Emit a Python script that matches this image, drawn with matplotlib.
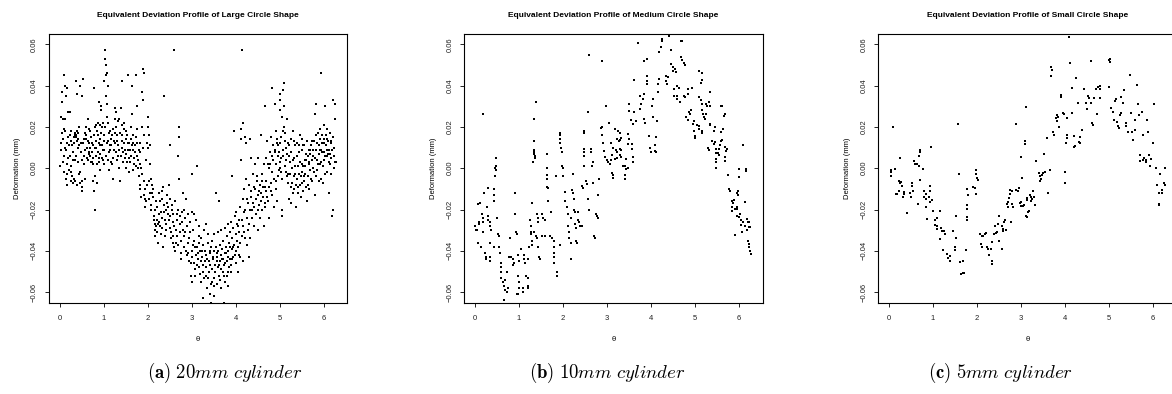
import numpy as np
import matplotlib
matplotlib.use('Agg')
import matplotlib.pyplot as plt

plt.rcParams['font.family'] = ['Liberation Sans', 'DejaVu Sans']
plt.rcParams['mathtext.fontset'] = 'cm'

# (theta, deformation)
large_pts = [
    (0.02, 0.001), (0.03, 0.009), (0.04, 0.025), (0.05, 0.037), (0.06, 0.032), (0.07, 0.024), (0.08, 0.014),
    (0.09, 0.006), (0.1, 0.045), (0.1, 0.019), (0.12, 0.018), (0.12, 0.04), (0.13, 0.01), (0.14, 0.035),
    (0.15, -0.005), (0.16, -0.008), (0.17, 0.012), (0.18, 0.039), (0.18, -0.003), (0.2, 0.005), (0.2, 0.027),
    (0.22, -0.001), (0.23, 0.016), (0.24, 0.027), (0.25, 0.001), (0.26, -0.006), (0.27, -0.002), (0.28, 0.011),
    (0.3, 0.004), (0.3, -0.007), (0.32, 0.015), (0.33, -0.005), (0.34, 0.017), (0.35, 0.004), (0.36, 0.016),
    (0.37, 0.042), (0.38, 0.015), (0.39, -0.008), (0.4, 0.036), (0.4, 0.013), (0.42, 0.017), (0.43, 0.01),
    (0.44, 0.02), (0.45, -0.003), (0.46, -0.007), (0.47, 0.04), (0.48, 0.012), (0.5, -0.011), (0.5, 0.004),
    (0.51, -0.006), (0.52, 0.035), (0.53, 0.043), (0.54, 0.012), (0.55, 0.006), (0.56, 0.002), (0.58, -0.005),
    (0.6, 0.016), (0.6, 0.014), (0.61, 0.02), (0.63, 0.01), (0.64, 0.024), (0.65, 0.004), (0.66, 0.012),
    (0.67, 0.008), (0.68, 0.007), (0.7, 0.006), (0.7, 0.018), (0.72, 0.015), (0.73, 0.003), (0.75, 0.005),
    (0.76, 0.011), (0.77, -0.006), (0.78, -0.011), (0.79, 0.039), (0.8, -0.02), (0.8, 0.02), (0.82, 0.021),
    (0.83, 0.01), (0.84, 0.006), (0.85, 0.002), (0.86, -0.007), (0.87, 0.022), (0.88, 0.016), (0.89, 0.012),
    (0.9, 0.032), (0.9, 0.005), (0.91, -0.001), (0.92, 0.007), (0.93, 0.021), (0.94, 0.017), (0.95, 0.028),
    (0.95, 0.03), (0.96, 0.011), (0.97, 0.005), (0.98, 0.022), (0.99, 0.009), (1.0, 0.016), (1.0, 0.013),
    (1.01, 0.002), (1.02, 0.042), (1.03, 0.057), (1.04, 0.053), (1.05, 0.05), (1.05, 0.035), (1.06, 0.045),
    (1.07, 0.031), (1.08, 0.025), (1.09, 0.046), (1.1, 0.04), (1.1, 0.022), (1.11, 0.013), (1.12, 0.008),
    (1.13, -0.001), (1.14, 0.018), (1.15, 0.009), (1.16, 0.003), (1.18, 0.011), (1.2, 0.016), (1.21, 0.005),
    (1.22, -0.005), (1.23, 0.013), (1.25, 0.029), (1.26, 0.024), (1.27, 0.017), (1.28, 0.008), (1.29, 0.027),
    (1.3, 0.004), (1.31, 0.013), (1.33, 0.023), (1.35, 0.0), (1.36, 0.009), (1.37, -0.006), (1.38, 0.017),
    (1.4, 0.029), (1.41, 0.01), (1.42, 0.042), (1.43, 0.013), (1.44, 0.003), (1.45, 0.008), (1.46, 0.019),
    (1.47, 0.022), (1.48, 0.005), (1.5, 0.014), (1.5, 0.0), (1.52, 0.007), (1.53, 0.016), (1.55, 0.045),
    (1.56, 0.012), (1.57, 0.005), (1.58, -0.002), (1.6, 0.009), (1.61, 0.003), (1.62, 0.014), (1.63, 0.02),
    (1.64, 0.04), (1.65, 0.026), (1.66, 0.009), (1.67, -0.001), (1.68, 0.012), (1.7, 0.002), (1.72, 0.008),
    (1.73, 0.015), (1.74, 0.045), (1.75, 0.03), (1.76, 0.019), (1.77, 0.006), (1.78, 0.0), (1.8, 0.009),
    (1.81, -0.004), (1.82, 0.012), (1.83, -0.008), (1.84, -0.01), (1.85, 0.0), (1.86, -0.014), (1.87, 0.02),
    (1.88, 0.037), (1.9, 0.033), (1.9, 0.048), (1.91, 0.046), (1.92, -0.006), (1.93, -0.013), (1.94, -0.019),
    (1.95, -0.015), (1.96, 0.004), (1.98, -0.008), (2.0, 0.02), (2.01, 0.025), (2.02, 0.01), (2.03, -0.015),
    (2.04, 0.016), (2.05, 0.011), (2.06, 0.002), (2.07, -0.005), (2.08, -0.018), (2.1, -0.008), (2.12, -0.014),
    (2.13, -0.01), (2.15, -0.023), (2.16, -0.027), (2.17, -0.03), (2.18, -0.033), (2.2, -0.016), (2.21, -0.025),
    (2.22, -0.019), (2.23, -0.036), (2.24, -0.027), (2.25, -0.012), (2.27, -0.026), (2.28, -0.016), (2.3, -0.021),
    (2.31, -0.032), (2.32, -0.011), (2.33, -0.015), (2.35, -0.009), (2.36, -0.038), (2.37, 0.035), (2.38, 0.065),
    (2.38, -0.018), (2.4, -0.025), (2.41, -0.02), (2.42, -0.03), (2.44, -0.017), (2.45, -0.013), (2.46, -0.022),
    (2.48, -0.008), (2.5, -0.015), (2.5, -0.029), (2.51, 0.011), (2.52, -0.023), (2.53, -0.034), (2.55, -0.02),
    (2.56, -0.018), (2.57, -0.026), (2.58, -0.036), (2.6, 0.057), (2.6, -0.028), (2.61, -0.038), (2.62, -0.016),
    (2.63, -0.04), (2.65, -0.03), (2.66, -0.025), (2.68, -0.033), (2.69, -0.02), (2.7, 0.006), (2.71, 0.02),
    (2.71, 0.015), (2.72, -0.005), (2.73, -0.027), (2.74, -0.023), (2.75, -0.041), (2.76, -0.035), (2.78, -0.026),
    (2.8, -0.03), (2.81, -0.012), (2.82, -0.02), (2.83, -0.038), (2.85, -0.024), (2.86, -0.031), (2.88, -0.015),
    (2.9, -0.042), (2.91, -0.036), (2.92, -0.022), (2.94, -0.034), (2.95, -0.045), (2.96, -0.026), (2.98, -0.052),
    (3.0, -0.04), (3.0, -0.021), (3.01, -0.055), (3.02, -0.003), (3.03, -0.037), (3.04, -0.03), (3.05, -0.046),
    (3.06, -0.022), (3.08, -0.052), (3.1, -0.042), (3.11, -0.025), (3.12, -0.038), (3.13, 0.001), (3.15, -0.044),
    (3.16, -0.033), (3.17, -0.048), (3.18, -0.028), (3.2, -0.04), (3.21, -0.055), (3.22, -0.034), (3.23, -0.043),
    (3.25, -0.037), (3.26, -0.05), (3.27, -0.063), (3.28, -0.03), (3.3, -0.045), (3.31, -0.04), (3.32, -0.052),
    (3.33, -0.027), (3.35, -0.044), (3.36, -0.058), (3.37, -0.036), (3.38, -0.032), (3.4, -0.05), (3.41, -0.041),
    (3.42, -0.061), (3.43, -0.047), (3.44, -0.038), (3.45, -0.065), (3.46, -0.055), (3.47, -0.035), (3.48, -0.043),
    (3.5, -0.04), (3.5, -0.062), (3.51, -0.053), (3.52, -0.032), (3.53, -0.047), (3.55, -0.038), (3.56, -0.012),
    (3.57, -0.056), (3.58, -0.043), (3.6, -0.048), (3.6, -0.031), (3.61, -0.04), (3.62, -0.052), (3.63, -0.016),
    (3.64, -0.045), (3.65, -0.037), (3.66, -0.058), (3.67, -0.042), (3.68, -0.03), (3.7, -0.044), (3.71, -0.05),
    (3.72, -0.035), (3.73, -0.065), (3.74, -0.047), (3.75, -0.041), (3.76, -0.055), (3.77, -0.029), (3.78, -0.038),
    (3.8, -0.052), (3.8, -0.045), (3.81, -0.033), (3.82, -0.057), (3.83, -0.04), (3.84, -0.027), (3.85, -0.048),
    (3.86, -0.036), (3.87, -0.044), (3.88, -0.031), (3.9, -0.026), (3.9, -0.05), (3.91, -0.004), (3.92, -0.039),
    (3.93, -0.034), (3.94, -0.043), (3.95, -0.029), (3.96, 0.018), (3.97, -0.037), (3.98, -0.023), (4.0, -0.032),
    (4.0, -0.046), (4.01, -0.04), (4.02, -0.021), (4.03, -0.035), (4.05, -0.05), (4.06, -0.028), (4.07, -0.042),
    (4.08, -0.031), (4.1, -0.019), (4.1, -0.036), (4.12, 0.019), (4.12, 0.014), (4.13, 0.004), (4.14, -0.025),
    (4.15, 0.057), (4.15, -0.033), (4.16, 0.022), (4.17, -0.015), (4.18, -0.045), (4.2, -0.031), (4.2, -0.01),
    (4.21, 0.015), (4.22, -0.02), (4.23, -0.005), (4.24, 0.012), (4.25, -0.037), (4.27, -0.015), (4.28, -0.03),
    (4.3, -0.043), (4.3, -0.008), (4.32, 0.014), (4.33, -0.02), (4.34, -0.034), (4.35, 0.005), (4.36, -0.011),
    (4.38, -0.024), (4.4, -0.003), (4.4, -0.017), (4.42, -0.028), (4.44, -0.01), (4.45, 0.002), (4.46, -0.022),
    (4.48, -0.006), (4.5, -0.013), (4.5, -0.03), (4.52, 0.005), (4.53, -0.018), (4.55, -0.008), (4.56, -0.024),
    (4.57, -0.012), (4.58, 0.016), (4.6, -0.006), (4.6, -0.02), (4.62, -0.014), (4.64, -0.028), (4.65, 0.002),
    (4.66, -0.009), (4.67, 0.03), (4.68, -0.019), (4.7, 0.005), (4.7, -0.011), (4.72, 0.013), (4.74, -0.016),
    (4.75, 0.0), (4.76, -0.024), (4.78, 0.008), (4.8, -0.007), (4.8, 0.015), (4.82, 0.039), (4.83, -0.002),
    (4.84, -0.013), (4.85, 0.011), (4.86, 0.004), (4.88, -0.019), (4.9, 0.031), (4.9, 0.009), (4.91, -0.006),
    (4.92, 0.018), (4.93, 0.002), (4.94, 0.014), (4.95, -0.016), (4.96, 0.006), (4.97, 0.011), (4.98, -0.001),
    (5.0, 0.028), (5.0, 0.033), (5.0, 0.0), (5.01, 0.036), (5.02, 0.012), (5.03, 0.005), (5.04, -0.002),
    (5.05, -0.02), (5.05, -0.023), (5.06, 0.025), (5.07, 0.038), (5.08, 0.018), (5.09, 0.009), (5.1, 0.041),
    (5.1, 0.03), (5.11, 0.02), (5.12, 0.017), (5.13, 0.013), (5.14, -0.002), (5.15, 0.004), (5.16, 0.024),
    (5.18, 0.007), (5.2, -0.007), (5.2, -0.003), (5.21, 0.011), (5.22, -0.015), (5.23, 0.003), (5.25, -0.009),
    (5.26, -0.017), (5.27, 0.014), (5.28, 0.0), (5.3, -0.012), (5.3, 0.018), (5.32, -0.004), (5.33, 0.005),
    (5.34, -0.01), (5.35, 0.001), (5.36, 0.011), (5.37, -0.008), (5.38, -0.019), (5.4, -0.005), (5.4, 0.012),
    (5.42, 0.001), (5.43, -0.012), (5.44, -0.003), (5.45, 0.008), (5.46, -0.008), (5.47, 0.016), (5.48, -0.014),
    (5.5, -0.007), (5.5, 0.002), (5.51, -0.002), (5.52, 0.014), (5.53, 0.011), (5.54, -0.011), (5.55, -0.004),
    (5.56, -0.006), (5.57, 0.004), (5.58, 0.001), (5.6, -0.009), (5.6, 0.007), (5.62, -0.016), (5.63, 0.013),
    (5.64, 0.006), (5.65, -0.004), (5.66, 0.009), (5.67, 0.003), (5.68, -0.01), (5.7, 0.007), (5.7, -0.001),
    (5.72, 0.011), (5.73, 0.004), (5.74, -0.006), (5.75, 0.009), (5.76, 0.0), (5.78, 0.013), (5.8, -0.013),
    (5.8, 0.026), (5.81, 0.005), (5.82, -0.004), (5.83, 0.031), (5.84, 0.009), (5.85, -0.001), (5.86, 0.012),
    (5.87, 0.017), (5.88, 0.002), (5.9, 0.007), (5.9, -0.006), (5.91, 0.014), (5.92, 0.009), (5.93, 0.019),
    (5.94, -0.005), (5.95, 0.046), (5.95, 0.003), (5.96, 0.008), (5.97, 0.012), (5.98, -0.007), (6.0, 0.014),
    (6.0, 0.004), (6.01, 0.021), (6.02, 0.008), (6.03, -0.003), (6.04, 0.03), (6.05, 0.016), (6.06, 0.011),
    (6.07, 0.006), (6.08, 0.019), (6.09, -0.002), (6.1, 0.013), (6.1, 0.007), (6.12, -0.012), (6.13, 0.009),
    (6.14, 0.017), (6.15, 0.002), (6.16, 0.012), (6.17, -0.003), (6.18, 0.005), (6.2, -0.023), (6.21, -0.02),
    (6.22, 0.033), (6.23, 0.01), (6.24, 0.0), (6.25, 0.024), (6.26, 0.031), (6.27, 0.003), (6.28, 0.003),
    # second pass through the denser clusters
    (0.03, 0.012), (0.05, 0.017), (0.07, 0.003), (0.09, 0.019), (0.11, -0.002), (0.13, 0.024), (0.15, 0.009),
    (0.17, 0.002), (0.19, 0.015), (0.21, 0.011), (0.23, 0.006), (0.25, 0.018), (0.27, 0.013), (0.29, -0.004),
    (0.31, 0.008), (0.33, 0.012), (0.35, 0.015), (0.36, -0.006), (0.37, 0.016), (0.38, 0.006), (0.39, 0.018),
    (0.41, 0.014), (0.43, 0.003), (0.45, 0.011), (0.47, -0.002), (0.49, 0.008), (0.52, -0.009), (0.55, 0.014),
    (0.57, 0.009), (0.59, 0.017), (0.62, 0.005), (0.64, 0.013), (0.66, 0.019), (0.69, 0.01), (0.71, 0.003),
    (0.73, 0.008), (0.74, 0.012), (0.76, 0.002), (0.78, 0.016), (0.8, 0.01), (0.81, -0.004), (0.83, 0.013),
    (0.85, 0.018), (0.87, 0.008), (0.89, 0.003), (0.91, 0.011), (0.93, 0.014), (0.96, 0.02), (0.98, 0.004),
    (1.02, 0.009), (1.04, 0.02), (1.06, 0.006), (1.08, 0.012), (1.1, 0.004), (1.12, 0.017), (1.14, 0.011),
    (1.17, 0.014), (1.19, 0.002), (1.21, 0.019), (1.24, 0.009), (1.26, 0.012), (1.28, 0.02), (1.3, 0.016),
    (1.32, 0.006), (1.34, 0.011), (1.36, 0.024), (1.39, 0.006), (1.41, 0.016), (1.43, 0.021), (1.46, 0.012),
    (1.49, 0.009), (1.51, 0.018), (1.54, 0.003), (1.56, 0.009), (1.59, 0.012), (1.62, 0.006), (1.64, 0.011),
    (1.67, 0.016), (1.69, 0.005), (1.71, 0.011), (1.74, 0.001), (1.76, 0.012), (1.79, 0.004), (1.82, 0.002),
    (1.84, 0.008), (1.87, -0.003), (1.89, 0.01), (1.92, 0.016), (1.95, -0.01), (1.97, -0.016), (1.99, 0.012),
    (2.03, -0.006), (2.05, -0.012), (2.09, -0.02), (2.11, -0.012), (2.14, -0.025), (2.17, -0.02), (2.19, -0.028),
    (2.22, -0.031), (2.26, -0.022), (2.29, -0.028), (2.32, -0.024), (2.34, -0.029), (2.37, -0.021), (2.39, -0.033),
    (2.43, -0.027), (2.47, -0.019), (2.49, -0.025), (2.54, -0.031), (2.57, -0.022), (2.59, -0.033), (2.64, -0.036),
    (2.67, -0.022), (2.7, -0.037), (2.74, -0.031), (2.77, -0.044), (2.79, -0.021), (2.84, -0.033), (2.87, -0.04),
    (2.89, -0.028), (2.93, -0.041), (2.97, -0.031), (2.99, -0.046), (3.02, -0.043), (3.05, -0.035), (3.07, -0.049),
    (3.09, -0.038), (3.12, -0.047), (3.14, -0.041), (3.17, -0.036), (3.19, -0.051), (3.22, -0.045), (3.24, -0.04),
    (3.27, -0.047), (3.29, -0.053), (3.32, -0.042), (3.34, -0.048), (3.37, -0.053), (3.39, -0.045), (3.42, -0.04),
    (3.44, -0.056), (3.47, -0.049), (3.49, -0.044), (3.52, -0.057), (3.54, -0.05), (3.57, -0.045), (3.59, -0.041),
    (3.62, -0.047), (3.64, -0.054), (3.67, -0.049), (3.69, -0.039), (3.72, -0.044), (3.74, -0.052), (3.77, -0.046),
    (3.79, -0.041), (3.82, -0.05), (3.84, -0.043), (3.87, -0.038), (3.89, -0.047), (3.92, -0.044), (3.95, -0.038),
    (3.98, -0.042), (4.03, -0.027), (4.06, -0.038), (4.09, -0.025), (4.11, -0.043), (4.16, -0.028), (4.19, -0.021),
    (4.22, -0.034), (4.26, -0.024), (4.29, -0.017), (4.31, -0.027), (4.35, -0.014), (4.37, -0.02), (4.41, -0.009),
    (4.43, -0.019), (4.47, -0.015), (4.49, -0.004), (4.51, -0.02), (4.54, -0.011), (4.58, -0.016), (4.61, -0.003),
    (4.63, -0.009), (4.66, -0.017), (4.69, -0.006), (4.71, -0.014), (4.73, 0.002), (4.77, -0.009), (4.79, 0.002),
    (4.81, -0.011), (4.84, 0.006), (4.87, -0.005), (4.89, 0.008), (4.92, -0.01), (4.95, 0.012), (4.97, -0.004),
    (4.99, 0.008), (5.02, 0.003), (5.04, 0.015), (5.06, -0.005), (5.09, 0.006), (5.12, 0.001), (5.14, 0.01),
    (5.17, -0.004), (5.19, 0.012), (5.22, 0.006), (5.24, -0.003), (5.27, 0.008), (5.29, -0.007), (5.31, 0.004),
    (5.34, 0.013), (5.36, -0.003), (5.39, 0.006), (5.41, -0.009), (5.44, 0.011), (5.46, 0.003), (5.49, -0.004),
    (5.51, 0.009), (5.54, 0.001), (5.56, 0.011), (5.59, -0.003), (5.61, 0.004), (5.64, -0.008), (5.66, 0.002),
    (5.69, 0.009), (5.71, -0.005), (5.74, 0.013), (5.77, 0.006), (5.79, -0.002), (5.82, 0.009), (5.84, 0.016),
    (5.86, 0.004), (5.89, 0.011), (5.92, 0.002), (5.94, 0.009), (5.97, 0.016), (5.99, 0.001), (6.02, 0.012),
    (6.04, 0.006), (6.07, 0.014), (6.09, 0.009), (6.12, 0.003), (6.14, 0.007), (6.17, 0.013), (6.19, 0.009),
    (6.22, 0.015), (6.24, 0.006),
]

medium_pts = [
    (0.18, 0.026), (0.0, -0.028), (0.02, -0.030), (0.04, -0.030), (0.06, -0.0175), (0.12, -0.017), (0.06, -0.036),
    (0.14, -0.038), (0.1, -0.026), (0.1, -0.027), (0.15, -0.022), (0.17, -0.024), (0.17, -0.026), (0.17, -0.031),
    (0.21, -0.012), (0.23, -0.041), (0.25, -0.043), (0.25, -0.044), (0.27, -0.019), (0.29, -0.023), (0.3, -0.025),
    (0.3, -0.0095), (0.33, -0.026), (0.35, -0.028), (0.36, -0.030), (0.33, -0.043), (0.35, -0.045), (0.35, -0.036),
    (0.42, -0.010), (0.44, -0.013), (0.42, -0.016), (0.45, 0.0), (0.48, -0.001), (0.48, 0.001), (0.48, 0.005),
    (0.46, -0.004), (0.5, -0.024), (0.52, -0.032), (0.54, -0.033), (0.44, -0.038), (0.55, -0.038), (0.57, -0.041),
    (0.58, -0.046), (0.58, -0.048), (0.58, -0.050), (0.59, -0.053), (0.63, -0.055), (0.67, -0.054), (0.65, -0.057),
    (0.68, -0.059), (0.73, -0.060), (0.65, -0.064), (0.74, -0.058), (0.73, -0.050), (0.8, -0.034), (0.78, -0.043),
    (0.82, -0.043), (0.86, -0.044), (0.88, -0.046), (0.86, -0.047), (0.91, -0.012), (0.91, -0.022), (0.93, -0.031),
    (0.95, -0.032), (0.98, -0.042), (1.0, -0.045), (0.97, -0.052), (1.0, -0.055), (1.0, -0.058), (0.95, -0.061),
    (0.98, -0.061), (1.08, -0.058), (1.1, -0.06), (1.05, -0.039), (1.11, -0.042), (1.12, -0.044), (1.14, -0.046),
    (1.16, -0.052), (1.2, -0.053), (1.21, -0.057), (1.21, -0.058), (1.2, -0.044), (1.23, -0.038), (1.26, -0.025),
    (1.27, -0.028), (1.27, -0.031), (1.27, -0.032), (1.29, -0.035), (1.29, -0.037), (1.3, -0.017), (1.31, 0.003),
    (1.33, 0.013), (1.33, 0.009), (1.33, 0.008), (1.35, 0.007), (1.36, 0.006), (1.36, 0.005), (1.33, 0.024),
    (1.39, 0.032), (1.35, -0.031), (1.41, -0.022), (1.42, -0.024), (1.44, -0.026), (1.39, -0.033), (1.41, -0.034),
    (1.44, -0.038), (1.46, -0.043), (1.48, -0.044), (1.52, -0.022), (1.55, -0.024), (1.58, -0.025), (1.52, -0.033),
    (1.58, -0.033), (1.64, 0.007), (1.64, -0.0035), (1.64, -0.005), (1.64, -0.009), (1.65, -0.0095), (1.64, 0.0),
    (1.65, -0.016), (1.73, -0.021), (1.71, -0.033), (1.74, -0.034), (1.79, -0.035), (1.79, -0.038), (1.8, -0.041),
    (1.8, -0.043), (1.8, -0.046), (1.84, -0.004), (1.86, -0.050), (1.86, -0.052), (1.92, -0.037), (1.94, 0.017),
    (1.94, 0.016), (1.94, 0.014), (1.94, 0.012), (1.95, 0.010), (1.97, 0.008), (1.98, 0.001), (2.0, 0.0),
    (2.01, -0.004), (2.05, -0.0115), (2.05, -0.016), (2.08, -0.019), (2.12, -0.022), (2.17, -0.024), (2.11, -0.028),
    (2.13, -0.031), (2.13, -0.034), (2.17, -0.036), (2.17, -0.044), (2.2, -0.0105), (2.22, -0.012), (2.26, -0.015),
    (2.22, -0.003), (2.24, -0.020), (2.27, -0.021), (2.28, -0.027), (2.3, -0.029), (2.3, -0.035), (2.31, -0.036),
    (2.33, -0.021), (2.35, -0.025), (2.37, -0.026), (2.39, -0.028), (2.42, -0.028), (2.42, -0.0085), (2.45, -0.0095),
    (2.47, 0.0095), (2.48, 0.008), (2.48, 0.006), (2.48, 0.018), (2.48, 0.017), (2.48, 0.0013), (2.52, -0.006),
    (2.55, -0.0075), (2.56, -0.015), (2.58, -0.020), (2.56, 0.027), (2.58, 0.055), (2.64, 0.0095), (2.64, 0.008),
    (2.65, 0.0013), (2.67, 0.003), (2.67, -0.007), (2.71, -0.033), (2.73, -0.034), (2.75, -0.022), (2.77, -0.023),
    (2.79, -0.024), (2.8, -0.013), (2.82, -0.005), (2.88, 0.052), (2.86, 0.0195), (2.88, 0.020), (2.88, 0.016),
    (2.9, 0.012), (2.92, 0.0085), (2.95, 0.0055), (2.98, 0.030), (3.0, 0.004), (3.03, 0.003), (3.06, 0.002),
    (3.05, 0.022), (3.08, 0.012), (3.11, 0.0065), (3.11, -0.0025), (3.1, 0.004), (3.17, 0.019), (3.25, 0.018),
    (3.29, 0.017), (3.23, 0.0142), (3.27, 0.013), (3.3, 0.0137), (3.32, 0.0145), (3.14, 0.0098), (3.2, 0.0089),
    (3.23, 0.0078), (3.29, 0.0094), (3.32, 0.0086), (3.17, 0.0043), (3.23, 0.0051), (3.3, 0.0066), (3.32, 0.0056),
    (3.36, 0.0013), (3.4, 0.0013), (3.14, -0.0035), (3.14, -0.0047), (3.4, -0.0035), (3.4, -0.005), (3.44, 0.0043),
    (3.47, 0.0166), (3.5, 0.0142), (3.47, 0.0118), (3.44, -0.0003), (3.47, 0.0002), (3.51, 0.0276), (3.51, 0.031),
    (3.55, 0.0234), (3.59, 0.0215), (3.57, 0.0118), (3.57, 0.0094), (3.59, 0.0053), (3.59, 0.0029), (3.62, 0.027),
    (3.65, 0.0227), (3.62, 0.0427), (3.7, 0.0605), (3.74, 0.035), (3.77, 0.031), (3.75, 0.0287), (3.81, 0.0335),
    (3.83, 0.036), (3.85, 0.024), (3.87, 0.022), (3.83, 0.0518), (3.92, 0.053), (3.92, 0.0448), (3.92, 0.0424),
    (3.91, 0.0408), (3.96, 0.0158), (3.98, 0.010), (4.0, 0.0078), (4.02, 0.0303), (4.04, 0.0335), (4.05, 0.0247),
    (4.1, 0.011), (4.1, 0.0085), (4.11, 0.0078), (4.15, 0.0368), (4.13, 0.023), (4.11, 0.015), (4.17, 0.0408),
    (4.19, 0.0432), (4.23, 0.0585), (4.25, 0.0618), (4.26, 0.0626), (4.19, 0.056), (4.34, 0.0448), (4.36, 0.0408),
    (4.35, 0.0424), (4.38, 0.044), (4.41, 0.064), (4.45, 0.057), (4.45, 0.0505), (4.49, 0.049), (4.5, 0.047),
    (4.55, 0.048), (4.56, 0.0465), (4.53, 0.0384), (4.58, 0.035), (4.6, 0.0335), (4.53, 0.035), (4.6, 0.04),
    (4.64, 0.039), (4.65, 0.032), (4.68, 0.0618), (4.71, 0.0618), (4.68, 0.0537), (4.7, 0.0524), (4.75, 0.0508),
    (4.77, 0.050), (4.75, 0.035), (4.77, 0.0344), (4.83, 0.0384), (4.85, 0.036), (4.8, 0.0247), (4.83, 0.0234),
    (4.86, 0.027), (4.88, 0.0263), (4.9, 0.0282), (4.94, 0.039), (4.98, 0.0227), (4.95, 0.0215), (4.98, 0.0182),
    (5.0, 0.0158), (5.0, 0.0147), (5.05, 0.0207), (5.08, 0.019), (5.1, 0.0202), (5.1, 0.0344), (5.13, 0.0328),
    (5.15, 0.031), (5.1, 0.0472), (5.15, 0.046), (5.15, 0.0428), (5.13, 0.041), (5.17, 0.028), (5.18, 0.0263),
    (5.15, 0.018), (5.17, 0.017), (5.2, 0.025), (5.26, 0.031), (5.28, 0.03), (5.24, 0.026), (5.23, 0.024),
    (5.32, 0.032), (5.33, 0.0303), (5.35, 0.0368), (5.33, 0.0216), (5.35, 0.021), (5.3, 0.010), (5.32, 0.0089),
    (5.39, 0.0134), (5.43, 0.0118), (5.45, 0.0125), (5.43, 0.018), (5.45, 0.0198), (5.47, 0.0094), (5.48, 0.0073),
    (5.47, 0.0045), (5.48, 0.0029), (5.48, 0.0), (5.54, 0.0094), (5.56, 0.011), (5.58, 0.013), (5.62, 0.0137),
    (5.58, 0.030), (5.62, 0.030), (5.65, 0.0255), (5.68, 0.0263), (5.53, 0.0073), (5.54, 0.0062), (5.63, 0.019),
    (5.6, 0.0174), (5.69, 0.0102), (5.71, 0.0085), (5.73, 0.0094), (5.68, 0.0037), (5.69, 0.0053), (5.75, -0.0032),
    (5.77, -0.010), (5.8, -0.0108), (5.84, -0.0157), (5.86, -0.017), (5.83, -0.019), (5.84, -0.0205), (5.88, -0.0153),
    (5.9, -0.0197), (5.96, -0.0118), (5.98, -0.011), (5.98, -0.0132), (6.0, -0.0003), (6.01, -0.0043), (5.95, -0.019),
    (5.96, -0.0197), (5.96, -0.023), (6.0, -0.0237), (6.03, -0.0221), (6.05, -0.0253), (6.04, -0.0273), (5.92, -0.0321),
    (6.08, 0.011), (6.1, -0.026), (6.13, -0.0282), (6.14, -0.0165), (6.15, -0.0005), (6.16, -0.0013), (6.18, -0.0245),
    (6.2, -0.026), (6.22, -0.0285), (6.18, -0.030), (6.07, -0.031), (6.23, -0.026), (6.2, -0.035), (6.22, -0.0366),
    (6.23, -0.0382), (6.26, -0.040), (6.28, -0.0414), (6.26, -0.0285),
]

small_pts = [
    (0.1, 0.02), (0.05, -0.0008), (0.05, -0.002), (0.05, -0.0036), (0.13, -0.0003), (0.26, 0.005), (0.23, -0.006),
    (0.25, -0.0073), (0.28, -0.0068), (0.3, -0.0084), (0.15, -0.0124), (0.19, -0.0124), (0.23, -0.0108),
    (0.34, -0.0116), (0.35, -0.0127), (0.32, -0.0137), (0.41, -0.0218), (0.47, -0.012), (0.49, -0.014),
    (0.53, -0.0073), (0.53, -0.0084), (0.55, -0.0108), (0.56, 0.0037), (0.6, 0.0021), (0.64, 0.0018),
    (0.68, 0.0061), (0.7, 0.0077), (0.71, 0.0089), (0.68, 0.0013), (0.7, -0.0056), (0.66, -0.0173),
    (0.77, -0.0003), (0.79, -0.0111), (0.83, -0.0124), (0.8, -0.014), (0.92, -0.0108), (0.94, -0.0084),
    (0.95, 0.0105), (0.83, -0.0148), (0.83, -0.0189), (0.9, -0.014), (0.92, -0.0165), (0.97, -0.0153),
    (0.99, -0.0205), (0.86, -0.0245), (1.05, -0.0253), (1.08, -0.0282), (1.09, -0.024), (1.05, -0.0277),
    (1.15, -0.0205), (1.1, -0.0294), (1.17, -0.0289), (1.2, -0.0302), (1.26, -0.0302), (1.28, -0.0318),
    (1.15, -0.0342), (1.23, -0.0395), (1.32, -0.0415), (1.35, -0.0434), (1.38, -0.0447), (1.38, -0.0427),
    (1.45, -0.0302), (1.53, -0.0337), (1.5, -0.0379), (1.5, -0.0395), (1.53, -0.023), (1.56, 0.0215),
    (1.58, -0.0027), (1.62, -0.0455), (1.68, -0.0447), (1.75, -0.0398), (1.64, -0.0511), (1.68, -0.0508),
    (1.71, -0.0508), (1.78, -0.01), (1.79, -0.0132), (1.78, -0.018), (1.78, -0.0197), (1.78, -0.0234),
    (1.78, -0.025), (1.9, -0.0089), (1.95, -0.0095), (1.98, -0.0011), (1.98, -0.0027), (1.99, -0.0047),
    (2.03, -0.0056), (1.98, -0.0124), (2.07, -0.032), (2.11, -0.0326), (2.14, -0.0326), (2.18, -0.0318),
    (2.2, -0.0315), (2.08, -0.0366), (2.11, -0.0382), (2.22, -0.0379), (2.26, -0.039), (2.31, -0.039),
    (2.28, -0.0418), (2.33, -0.0447), (2.33, -0.0466), (2.35, -0.0358), (2.38, -0.0318), (2.43, -0.0315),
    (2.41, -0.0282), (2.46, -0.031), (2.48, -0.027), (2.5, -0.0353), (2.56, -0.039), (2.5, -0.023),
    (2.58, -0.0294), (2.56, -0.0282), (2.61, -0.0261), (2.63, -0.0253), (2.59, -0.0302), (2.65, -0.0298),
    (2.68, -0.0173), (2.71, -0.0165), (2.73, -0.0144), (2.74, -0.0127), (2.71, -0.0189), (2.78, -0.0261),
    (2.82, -0.0189), (2.8, -0.0173), (2.76, -0.0105), (2.8, -0.0108), (2.88, -0.0105), (2.92, -0.0108),
    (2.95, -0.0095), (2.97, -0.0169), (3.0, -0.0165), (3.0, -0.0185), (3.04, -0.0181), (3.06, -0.0176),
    (3.03, -0.0047), (3.0, 0.0055), (3.08, 0.0118), (3.08, 0.0131), (2.88, 0.0215), (3.12, 0.0298),
    (3.14, -0.0153), (3.14, -0.0144), (3.2, -0.0132), (3.12, -0.023), (3.14, -0.0234), (3.17, -0.0205),
    (3.16, -0.0213), (3.23, -0.0137), (3.25, -0.0148), (3.23, -0.0157), (3.27, -0.0108), (3.29, -0.014),
    (3.32, -0.0176), (3.35, 0.0037), (3.4, -0.0024), (3.44, -0.0037), (3.47, -0.0032), (3.51, -0.0021),
    (3.55, -0.0016), (3.42, -0.006), (3.45, -0.0052), (3.53, 0.0069), (3.59, 0.0145), (3.62, -0.0118),
    (3.65, -0.0011), (3.68, 0.0444), (3.68, 0.0492), (3.7, 0.0473), (3.72, 0.0177), (3.75, 0.0161),
    (3.8, 0.0242), (3.81, 0.023), (3.81, 0.0258), (3.83, 0.025), (3.87, 0.0198), (3.9, 0.0355),
    (3.91, 0.0347), (3.95, 0.0266), (3.98, 0.0263), (4.0, -0.0016), (4.0, -0.0073), (4.02, 0.0121),
    (4.05, 0.0242), (4.05, 0.0161), (4.05, 0.0145), (4.1, 0.0634), (4.11, 0.0508), (4.15, 0.0387),
    (4.17, 0.0269), (4.2, 0.0156), (4.23, 0.0108), (4.21, 0.0105), (4.26, 0.0435), (4.29, 0.0315),
    (4.32, 0.0129), (4.34, 0.0121), (4.34, 0.0153), (4.38, 0.0185), (4.43, 0.0382), (4.47, 0.0315),
    (4.49, 0.0285), (4.53, 0.035), (4.55, 0.0339), (4.58, 0.0521), (4.6, 0.0315), (4.62, 0.0218),
    (4.64, 0.021), (4.65, 0.0342), (4.7, 0.0382), (4.73, 0.0263), (4.75, 0.0392), (4.79, 0.0398),
    (4.8, 0.0382), (4.79, 0.0339), (5.0, 0.0524), (5.02, 0.0516), (5.03, 0.0527), (4.99, 0.0395),
    (5.05, 0.029), (5.09, 0.0274), (5.11, 0.0234), (5.13, 0.0327), (5.17, 0.0334), (5.18, 0.0226),
    (5.2, 0.0202), (5.23, 0.0194), (5.26, 0.0258), (5.28, 0.0266), (5.28, 0.0347), (5.32, 0.0315),
    (5.35, 0.0379), (5.38, 0.0218), (5.39, 0.0202), (5.43, 0.0177), (5.48, 0.0452), (5.5, 0.0266),
    (5.53, 0.0177), (5.54, 0.0137), (5.58, 0.0234), (5.6, 0.0185), (5.63, 0.0403), (5.65, 0.0311),
    (5.69, 0.0258), (5.71, 0.0065), (5.71, 0.0037), (5.75, 0.0274), (5.77, 0.0161), (5.78, 0.004),
    (5.8, 0.0048), (5.83, 0.004), (5.84, 0.0032), (5.86, 0.0234), (5.88, 0.0177), (5.9, 0.0065),
    (5.93, 0.0011), (5.95, 0.0044), (6.0, 0.0124), (6.02, 0.0311), (6.07, 0.0), (6.08, -0.0081),
    (6.13, -0.0173), (6.14, -0.0177), (6.14, -0.0121), (6.17, -0.0027), (6.2, -0.0105), (6.21, -0.0121),
    (6.24, -0.0073), (6.27, -0.0081), (6.28, 0.0),
]

titles = [
    'Equivalent Deviation Profile of Large Circle Shape',
    'Equivalent Deviation Profile of Medium Circle Shape',
    'Equivalent Deviation Profile of Small Circle Shape',
]
captions = [
    r'$\mathbf{(a)}$ $20mm\ cylinder$',
    r'$\mathbf{(b)}$ $10mm\ cylinder$',
    r'$\mathbf{(c)}$ $5mm\ cylinder$',
]
xticks = [0, 1, 2, 3, 4, 5, 6]
yticks = [-0.06, -0.04, -0.02, 0.0, 0.02, 0.04, 0.06]
ytick_labels = ['\u22120.06', '\u22120.04', '\u22120.02', '0.00', '0.02', '0.04', '0.06']

W, H = 1172, 394
fig = plt.figure(figsize=(W / 100, H / 100), dpi=100)

# pixel layout of the three panels (left edge), shared size
lefts = [48.5, 464, 878]
caption_x = [225, 607, 1001]
ax_w, ax_h, ax_bottom = 298.5, 268.6, 302.5

for i, pts in enumerate([large_pts, medium_pts, small_pts]):
    theta, dev = np.array(pts).T
    ax = fig.add_axes([lefts[i] / W, (H - ax_bottom) / H, ax_w / W, ax_h / H])
    ax.plot(theta, dev, 's', ms=1.7, mew=0, color='black')
    ax.set_xlim(-0.251, 6.534)
    ax.set_ylim(-0.065, 0.065)
    ax.set_xticks(xticks)
    ax.set_xticklabels([str(t) for t in xticks])
    ax.set_yticks(yticks)
    ax.set_yticklabels(ytick_labels, rotation=90, va='center')
    ax.tick_params(labelsize=5.5, length=3, width=0.7, pad=4.5, colors='#222222')
    ax.tick_params(axis='x', pad=6)
    for s in ax.spines.values():
        s.set_linewidth(0.8)
    ax.set_title(titles[i], fontsize=6, fontweight='bold', pad=12)
    ax.set_xlabel('\u03b8', fontsize=5.5, labelpad=10)
    ax.set_ylabel('Deformation (mm)', fontsize=5.5, labelpad=7)
    fig.text(caption_x[i] / W, 1 - 373 / H, captions[i], ha='center', va='center', fontsize=13.5)

fig.savefig('out.png', dpi=100)
